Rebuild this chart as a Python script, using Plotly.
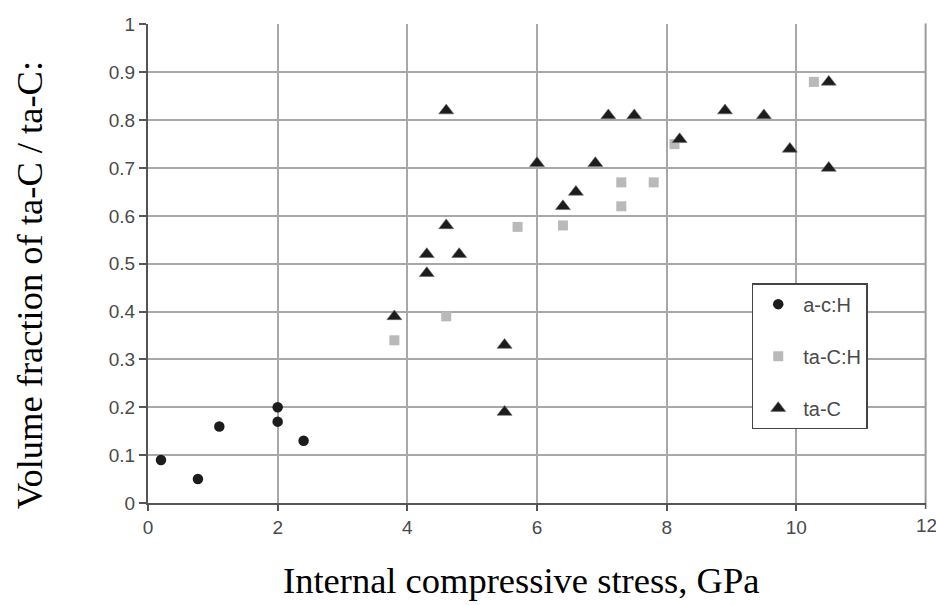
import plotly.graph_objects as go

# a-c:H (circles)
ach_x = [0.2, 0.77, 1.1, 2.0, 2.0, 2.4]
ach_y = [0.09, 0.05, 0.16, 0.20, 0.17, 0.13]

# ta-C:H (squares)
tach_x = [3.8, 4.6, 5.7, 6.4, 7.3, 7.3, 7.8, 8.12, 10.27]
tach_y = [0.34, 0.39, 0.577, 0.58, 0.67, 0.62, 0.67, 0.75, 0.88]

# ta-C (triangles)
tac_x = [3.8, 4.3, 4.3, 4.6, 4.6, 4.8, 5.5, 5.5, 6.0, 6.4, 6.6, 6.9,
         7.1, 7.5, 8.2, 8.9, 9.5, 9.9, 10.5, 10.5]
tac_y = [0.39, 0.52, 0.48, 0.82, 0.58, 0.52, 0.33, 0.19, 0.71, 0.62, 0.65, 0.71,
         0.81, 0.81, 0.76, 0.82, 0.81, 0.74, 0.88, 0.70]

x_ticks = [0, 2, 4, 6, 8, 10]
x_max = 12
y_ticks = [0, 0.1, 0.2, 0.3, 0.4, 0.5, 0.6, 0.7, 0.8, 0.9, 1]

fig = go.Figure()
fig.add_trace(go.Scatter(x=ach_x, y=ach_y, mode="markers", name="a-c:H",
                         legendgroup="g1",
                         marker=dict(symbol="circle", size=10.5, color="#1c1c1c")))
fig.add_trace(go.Scatter(x=tach_x, y=tach_y, mode="markers", name="ta-C:H",
                         legendgroup="g2",
                         marker=dict(symbol="square", size=10, color="#b9b9b9")))
fig.add_trace(go.Scatter(x=tac_x, y=tac_y, mode="markers", name="ta-C",
                         legendgroup="g3",
                         marker=dict(symbol="triangle-up", size=13, color="#1c1c1c",
                                     line=dict(width=0.6, color="#666"))))

tickfont = dict(family="Liberation Sans, Arial", size=19, color="#4a4a4a")

fig.update_layout(
    width=936, height=605,
    margin=dict(l=148, r=10, t=24, b=102),
    paper_bgcolor="white", plot_bgcolor="white",
    showlegend=True,
    legend=dict(x=0.776, y=0.459, xanchor="left", yanchor="top",
                bgcolor="white", bordercolor="#444", borderwidth=1.5,
                font=dict(family="Liberation Sans, Arial", size=20, color="#4a4a4a"),
                tracegroupgap=23, itemwidth=40),
    xaxis=dict(range=[0, x_max], tickvals=x_ticks, ticktext=[str(v) for v in x_ticks],
               showgrid=True, gridcolor="#a8a8a8", gridwidth=1.5,
               showline=True, linecolor="#555", linewidth=2,
               ticks="outside", ticklen=6, tickcolor="#555", tickwidth=1.5,
               tickfont=tickfont, zeroline=False),
    yaxis=dict(range=[0, 1.001], tickvals=y_ticks, ticktext=[("%g" % v) for v in y_ticks],
               showgrid=True, gridcolor="#a8a8a8", gridwidth=1.5,
               showline=True, linecolor="#555", linewidth=2,
               ticks="outside", ticklen=7, tickcolor="#555", tickwidth=1.5,
               tickfont=tickfont, zeroline=False),
    shapes=[
        dict(type="line", xref="paper", yref="paper", x0=0.9995, x1=0.9995, y0=0, y1=1.001,
             line=dict(color="#9a9a9a", width=2), layer="above"),
        dict(type="line", xref="paper", yref="paper", x0=0.9995, x1=0.9995, y0=0, y1=-6/479,
             line=dict(color="#555", width=1.5), layer="above"),
    ],
    annotations=[
        dict(text=str(x_max), xref="x", yref="paper", x=x_max, y=-0.046,
             xanchor="center", yanchor="middle", showarrow=False, font=tickfont),
        dict(text="Internal compressive stress, GPa", xref="paper", yref="paper",
             x=0.479, y=-0.161, xanchor="center", yanchor="middle", showarrow=False,
             font=dict(family="Liberation Serif, Times New Roman", size=36.5, color="black")),
        dict(text="Volume fraction of ta-C / ta-C:", xref="paper", yref="paper",
             x=-0.152, y=0.454, xanchor="center", yanchor="middle", showarrow=False,
             textangle=-90,
             font=dict(family="Liberation Serif, Times New Roman", size=36.5, color="black")),
    ],
)

fig.write_html("out.html")
